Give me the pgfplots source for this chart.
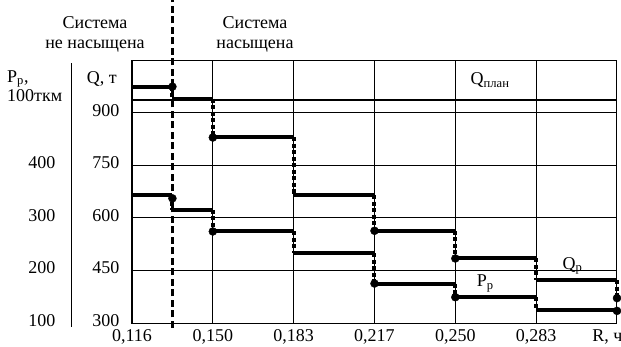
\documentclass[border=0pt]{standalone}
\usepackage{pgfplots}
\pgfplotsset{compat=1.18}
\usepackage{fontspec}
\setmainfont{Liberation Serif}
\newcommand\fsz{\fontsize{18bp}{20bp}\selectfont}
\begin{document}
\begin{tikzpicture}[font=\fsz,
  stepl/.style={black, line width=4bp},
  drop/.style={black, line width=4bp, dash pattern=on 4bp off 2.5bp},
  dots/.style={black, only marks, mark=*, mark size=4bp}]
\begin{axis}[
  width=485bp, height=263bp, scale only axis,
  xmin=0, xmax=6, ymin=300, ymax=1050,
  xtick={0,1,2,3,4,5},
  xticklabels={{0,116},{0,150},{0,183},{0,217},{0,250},{0,283}},
  ytick={300,450,600,750,900},
  yticklabels={300,450,600,750,900},
  grid=major, grid style={black, line width=0.8bp},
  major tick length=0pt,
  axis line style={line width=1bp},
  tick label style={font=\fsz},
  yticklabel style={xshift=-9bp, yshift=2.5bp},
  xticklabel style={yshift=-3.5bp},
  clip=false,
  unbounded coords=jump,
]
% Q plan
\addplot[black, line width=2.2bp] coordinates {(0,935)(6,935)};
% border line system saturated
\addplot[black, line width=2.2bp, dash pattern=on 7bp off 3.5bp] coordinates {(0.5,286)(0.5,1220)};
% Q_p
\addplot[stepl] coordinates {(0,974)(0.5,974)(0.5,nan)(0.5,940)(1,940)(1,nan)(1,829)(2,829)(2,nan)(2,665)(3,665)(3,nan)(3,563)(4,563)(4,nan)(4,484)(5,484)(5,nan)(5,422)(6,422)};
\addplot[drop] coordinates {(0.5,974)(0.5,940)(0.5,nan)(1,940)(1,829)(1,nan)(2,829)(2,665)(2,nan)(3,665)(3,563)(3,nan)(4,563)(4,484)(4,nan)(5,484)(5,422)(5,nan)(6,422)(6,371)};
\addplot[dots] coordinates {(0.5,974)(1,829)(3,563)(4,484)(6,371)};
% labels
\node[anchor=base] at ([shift={(-37bp,32bp)}]rel axis cs:0,1) {Система};
\node[anchor=base] at ([shift={(-37bp,12bp)}]rel axis cs:0,1) {не насыщена};
\node[anchor=base] at ([shift={(123bp,32bp)}]rel axis cs:0,1) {Система};
\node[anchor=base] at ([shift={(123bp,12bp)}]rel axis cs:0,1) {насыщена};
\node[anchor=base west, inner sep=0pt] at ([shift={(-125bp,-22bp)}]rel axis cs:0,1) {P\textsubscript{р},};
\node[anchor=base west, inner sep=0pt] at ([shift={(-125bp,-41bp)}]rel axis cs:0,1) {100ткм};
\node[anchor=base east, inner sep=0pt] at ([shift={(-15bp,-23bp)}]rel axis cs:0,1) {Q, т};
\draw[black, line width=1bp] ([shift={(-60bp,-3bp)}]rel axis cs:0,1) -- ([shift={(-60bp,-4bp)}]rel axis cs:0,0);
\node[anchor=north east] at ([shift={(9bp,-3.5bp)}]rel axis cs:1,0) {R, ч};
\node at (axis cs:4.43,993) {Q\textsubscript{план}};
\node at (axis cs:5.45,463) {Q\textsubscript{р}};
\node at (axis cs:4.37,412) {P\textsubscript{р}};
\coordinate (bl) at (rel axis cs:0,0);
\end{axis}
\begin{axis}[
  width=485bp, height=263bp, scale only axis,
  xmin=0, xmax=6, ymin=100, ymax=600,
  xtick=\empty,
  ytick={100,200,300,400},
  yticklabels={100,200,300,400},
  axis line style={draw=none},
  major tick length=0pt,
  tick label style={font=\fsz},
  yticklabel style={xshift=-73bp, yshift=2.5bp},
  clip=false,
  unbounded coords=jump,
]
% P_p
\addplot[stepl] coordinates {(0,343)(0.5,343)(0.5,nan)(0.5,315)(1,315)(1,nan)(1,274)(2,274)(2,nan)(2,233)(3,233)(3,nan)(3,175)(4,175)(4,nan)(4,149)(5,149)(5,nan)(5,125)(6,125)};
\addplot[drop] coordinates {(0.5,343)(0.5,315)(0.5,nan)(1,315)(1,274)(1,nan)(2,274)(2,233)(2,nan)(3,233)(3,175)(3,nan)(4,175)(4,149)(4,nan)(5,149)(5,125)};
\addplot[dots] coordinates {(0.5,337)(1,274)(3,175)(4,149)(6,123)};
\end{axis}
\pgfresetboundingbox
\path ([shift={(-132bp,-24bp)}]bl) rectangle ([shift={(489bp,323bp)}]bl);
\end{tikzpicture}
\end{document}
